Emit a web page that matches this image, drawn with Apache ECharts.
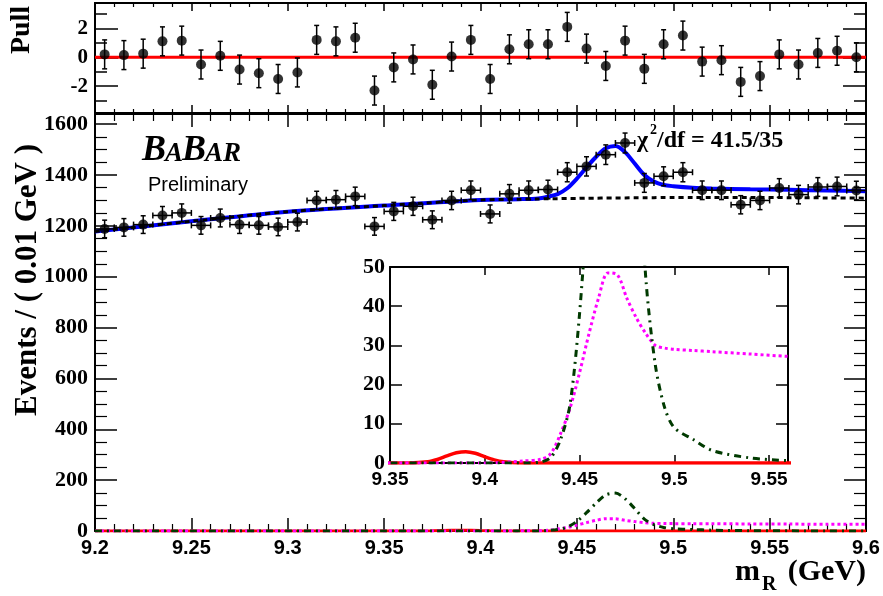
<!DOCTYPE html>
<html><head><meta charset="utf-8">
<script src="https://cdn.jsdelivr.net/npm/echarts@6/dist/echarts.min.js"></script>
<style>html,body{margin:0;padding:0;background:#fff}#c{width:883px;height:596px}</style>
</head><body><div id="c"></div>
<script>
// ---- data ----
const binCenters = [9.205,9.215,9.225,9.235,9.245,9.255,9.265,9.275,9.285,9.295,
                    9.305,9.315,9.325,9.335,9.345,9.355,9.365,9.375,9.385,9.395,
                    9.405,9.415,9.425,9.435,9.445,9.455,9.465,9.475,9.485,9.495,
                    9.505,9.515,9.525,9.535,9.545,9.555,9.565,9.575,9.585,9.595];
const binHalfWidth = 0.005;
const counts = [1188,1194,1205,1241,1251,1202,1231,1205,1202,1196,
                1215,1300,1303,1316,1198,1257,1277,1224,1300,1340,
                1247,1326,1340,1343,1411,1434,1480,1526,1369,1395,
                1411,1340,1340,1283,1300,1349,1323,1353,1355,1339];
const countErrors = [34.5,34.6,34.7,35.2,35.4,34.7,35.1,34.7,34.7,34.6,
                     34.9,36.1,36.1,36.3,34.6,35.5,35.7,35.0,36.1,36.6,
                     35.3,36.4,36.6,36.6,37.6,37.9,38.5,39.1,37.0,37.3,
                     37.6,36.6,36.6,35.8,36.1,36.7,36.4,36.8,36.8,36.6];
const pulls = [0.2,0.15,0.25,1.1,1.15,-0.5,0.1,-0.85,-1.1,-1.5,
               -1.05,1.2,1.1,1.35,-2.3,-0.7,-0.15,-1.9,0.05,1.2,
               -1.5,0.55,0.9,0.9,2.1,0.6,-0.6,1.15,-0.8,0.9,
               1.5,-0.3,-0.2,-1.7,-1.3,0.2,-0.5,0.3,0.45,0.0];
const pullErrors = [1,1,1,1,1,1,1,1,1,1,1,1,1,1,1,1,1,1,1,1,
                    1,1,1,1,1,1,1,1,1,1,1,1,1,1,1,1,1,1,1,1];
const pullZeroX = [9.2, 9.6];
const pullZeroY = [0, 0];

// fit curves
const fitX       = [9.2,9.25,9.3,9.35,9.4,9.42,9.43,9.435,9.44,9.445,9.45,9.455,9.46,9.465,9.47,9.475,9.48,9.485,9.49,9.495,9.5,9.51,9.52,9.54,9.56,9.58,9.6];
const totalFit   = [1178,1218,1256,1280,1302,1305,1308,1315,1325,1348,1386,1430,1472,1505,1514,1490,1445,1400,1374,1361,1356,1350,1347,1344,1342,1339,1336];
const background = [1178,1218,1256,1280,1302,1305,1306,1307,1307,1308,1308,1309,1309,1310,1310,1310,1311,1311,1311,1312,1312,1312,1312,1312,1311,1310,1309];
const greenComp  = [0,0,0,0,0,0,0.3,1.5,6,15,38,72,110,142,149,127,88,47,25,14,9,6,3.2,1.3,0.6,0.3,0.2];
const magentaComp= [0,0,0,0,0,0.5,1,2.5,7.5,14,23,33,42,48.5,48,42,37,33,30,29.3,29,28.7,28.4,27.8,27.2,26.7,26.2];
const redX       = [9.2,9.36,9.37,9.375,9.38,9.385,9.39,9.395,9.4,9.405,9.41,9.42,9.6];
const redComp    = [0,0,0.3,0.9,1.8,2.6,2.9,2.5,1.6,0.8,0.3,0,0];

// axis ranges / ticks
const mainX = {min: 9.2, max: 9.6, step: 0.05};
const mainY = {min: 0, max: 1640, step: 200};
const pullY = {min: -3.85, max: 3.75, major: [-2, 0, 2], minor: [-3, -1, 1, 3]};
const insetX = {min: 9.35, max: 9.56, step: 0.05};
const insetY = {min: 0, max: 50, step: 10};

// ---- helpers ----
const pairs = (xs, ys) => xs.map((x, i) => [x, ys[i]]);
const fmtX = v => String(+v.toFixed(2));
const fmtY = v => String(Math.round(v));
const SERIF = '"Liberation Serif", "DejaVu Serif", serif';
const SANS = '"Liberation Sans", Arial, sans-serif';
const black = {color: '#000', width: 2};

function xAxis(grid, r, pos, showLabel, len, minorLen, labelSize) {
  return {
    type: 'value', gridIndex: grid, position: pos, min: r.min, max: r.max, interval: r.step,
    axisLine: {show: true, onZero: false, lineStyle: black},
    axisTick: {show: true, inside: true, length: len, lineStyle: {color: '#000', width: 1.5}},
    minorTick: {show: minorLen > 0, splitNumber: 5, length: minorLen, lineStyle: {color: '#000', width: 1.2}},
    splitLine: {show: false},
    axisLabel: {show: showLabel, formatter: fmtX, color: '#000', fontFamily: SANS, fontWeight: 'bold',
                fontSize: labelSize || 20, margin: 7, showMaxLabel: r.max === 9.6, showMinLabel: true}
  };
}
function yAxis(grid, r, pos, showLabel, len, minorLen, labelSize, minorSplit, margin, showMax) {
  return {
    type: 'value', gridIndex: grid, position: pos, min: r.min, max: r.max, interval: r.step,
    axisLine: {show: true, onZero: false, lineStyle: black},
    axisTick: {show: true, inside: true, length: len, lineStyle: {color: '#000', width: 1.5}},
    minorTick: {show: minorLen > 0, splitNumber: minorSplit || 4, length: minorLen, lineStyle: {color: '#000', width: 1.2}},
    splitLine: {show: false},
    axisLabel: {show: showLabel, formatter: fmtY, color: '#000', fontFamily: SERIF, fontWeight: 'bold',
                fontSize: labelSize || 22, margin: margin || 7, showMaxLabel: !!showMax}
  };
}
function pullAxis(pos, values, len, showLabel) {
  return {
    type: 'value', gridIndex: 0, position: pos, min: pullY.min, max: pullY.max,
    axisLine: {show: true, onZero: false, lineStyle: black},
    axisTick: {show: true, inside: true, length: len, customValues: values, lineStyle: {color: '#000', width: 1.5}},
    splitLine: {show: false},
    axisLabel: {show: showLabel, customValues: values, formatter: fmtY, color: '#000', fontFamily: SERIF, fontWeight: 'bold', fontSize: 21, margin: 7}
  };
}

function errRender(withX, cap) {
  return function (params, api) {
    const x = api.value(0), y = api.value(1), e = api.value(2);
    const t = api.coord([x, y + e]), b = api.coord([x, y - e]);
    const st = {stroke: '#000', lineWidth: 1.5};
    const ch = [
      {type: 'line', shape: {x1: t[0], y1: t[1], x2: b[0], y2: b[1]}, style: st},
      {type: 'line', shape: {x1: t[0] - cap, y1: t[1], x2: t[0] + cap, y2: t[1]}, style: st},
      {type: 'line', shape: {x1: b[0] - cap, y1: b[1], x2: b[0] + cap, y2: b[1]}, style: st}
    ];
    if (withX) {
      const h = api.value(3);
      const l = api.coord([x - h, y]), r = api.coord([x + h, y]);
      ch.push({type: 'line', shape: {x1: l[0], y1: l[1], x2: r[0], y2: r[1]}, style: st});
      ch.push({type: 'line', shape: {x1: l[0], y1: l[1] - 3, x2: l[0], y2: l[1] + 3}, style: st});
      ch.push({type: 'line', shape: {x1: r[0], y1: r[1] - 3, x2: r[0], y2: r[1] + 3}, style: st});
    }
    return {type: 'group', children: ch};
  };
}

function line(name, data, xi, yi, color, width, type, z, smooth) {
  return {type: 'line', name, data, xAxisIndex: xi, yAxisIndex: yi, showSymbol: false, symbol: 'none',
          smooth: smooth || 0, clip: true, z: z || 2,
          lineStyle: {color, width, type: type || 'solid'}};
}

const greenDash = [7, 5, 2, 5];
const magDot = [3, 3];

function txt(x, y, text, font, align, rot) {
  return {type: 'text', x, y, rotation: rot || 0, z: 100,
          style: {text, font, fill: '#000', textAlign: align || 'left', align: align || 'left',
                  textVerticalAlign: 'middle', verticalAlign: 'middle'}};
}

const chart = echarts.init(document.getElementById('c'), null, {renderer: 'canvas'});
chart.setOption({
  animation: false,
  backgroundColor: '#fff',
  grid: [
    {left: 95, right: 17, top: 3, height: 110},
    {left: 95, right: 17, top: 114, height: 417},
    {left: 390, top: 267, width: 398, height: 196, show: true, backgroundColor: '#fff', borderWidth: 0, z: 5}
  ],
  xAxis: [
    xAxis(0, mainX, 'bottom', false, 8, 4),
    xAxis(0, mainX, 'top', false, 8, 4),
    xAxis(1, mainX, 'bottom', true, 13, 7),
    xAxis(1, mainX, 'top', false, 13, 7),
    Object.assign(xAxis(2, insetX, 'bottom', true, 8, 0, 19), {z: 6}),
    Object.assign(xAxis(2, insetX, 'top', false, 8, 0), {z: 6})
  ],
  yAxis: [
    pullAxis('left', pullY.major, 23, true),
    pullAxis('left', pullY.minor, 12, false),
    pullAxis('right', pullY.major, 23, false),
    pullAxis('right', pullY.minor, 12, false),
    yAxis(1, mainY, 'left', true, 22, 12, 22, 4),
    yAxis(1, mainY, 'right', false, 22, 12, 22, 4),
    Object.assign(yAxis(2, insetY, 'left', true, 12, 0, 22, 4, 5, true), {z: 6}),
    Object.assign(yAxis(2, insetY, 'right', false, 12, 0, 22), {z: 6})
  ],
  series: [
    // pull panel
    line('pull0', pairs(pullZeroX, pullZeroY), 0, 0, '#ff0000', 3, 'solid', 3),
    {type: 'custom', xAxisIndex: 0, yAxisIndex: 0, renderItem: errRender(false, 2.5), z: 4,
     data: binCenters.map((x, i) => [x, pulls[i], pullErrors[i]])},
    {type: 'scatter', xAxisIndex: 0, yAxisIndex: 0, symbol: 'circle', symbolSize: 10, z: 5,
     itemStyle: {color: '#000'}, data: pairs(binCenters, pulls)},
    // main panel
    line('total', pairs(fitX, totalFit), 2, 4, '#0000ff', 4, 'solid', 3, 0.3),
    line('bkg', pairs(fitX, background), 2, 4, '#000', 3, [5, 4], 4, 0.3),
    line('red', pairs(redX, redComp), 2, 4, '#ff0000', 3, 'solid', 3),
    line('magenta', pairs(fitX, magentaComp), 2, 4, '#ff00ff', 3, magDot, 4, 0.3),
    line('green', pairs(fitX, greenComp), 2, 4, '#003a00', 3, greenDash, 4, 0.3),
    {type: 'custom', xAxisIndex: 2, yAxisIndex: 4, renderItem: errRender(true, 2.5), z: 6,
     data: binCenters.map((x, i) => [x, counts[i], countErrors[i], binHalfWidth])},
    {type: 'scatter', xAxisIndex: 2, yAxisIndex: 4, symbol: 'circle', symbolSize: 10, z: 7,
     itemStyle: {color: '#000'}, data: pairs(binCenters, counts)},
    // inset
    line('red_i', pairs(redX, redComp), 4, 6, '#ff0000', 3.5, 'solid', 8, 0.3),
    line('magenta_i', pairs(fitX, magentaComp), 4, 6, '#ff00ff', 3, magDot, 9, 0.3),
    line('green_i', pairs(fitX, greenComp), 4, 6, '#003a00', 3, greenDash, 9, 0.3)
  ],
  graphic: [
    txt(22, 30, 'Pull', 'bold 28px ' + SERIF, 'center', Math.PI / 2),
    txt(28, 280, 'Events / ( 0.01 GeV )', 'bold 31px ' + SERIF, 'center', Math.PI / 2),
    txt(735, 572, 'm', 'bold 30px ' + SERIF, 'left'),
    txt(762, 585, 'R', 'bold 20px ' + SERIF, 'left'),
    txt(866, 572, '(GeV)', 'bold 30px ' + SERIF, 'right'),
    txt(142, 151, 'B', 'italic bold 36px ' + SERIF, 'left'),
    txt(165, 154, 'A', 'italic bold 27px ' + SERIF, 'left'),
    txt(182, 151, 'B', 'italic bold 36px ' + SERIF, 'left'),
    txt(205, 154, 'AR', 'italic bold 27px ' + SERIF, 'left'),
    txt(148, 185, 'Preliminary', '20px ' + SANS, 'left'),
    txt(637, 141, 'χ', 'bold 24px ' + SERIF, 'left'),
    txt(650, 130, '2', 'bold 14px ' + SERIF, 'left'),
    txt(657, 141, '/df = 41.5/35', 'bold 24px ' + SERIF, 'left')
  ]
});
</script></body></html>
